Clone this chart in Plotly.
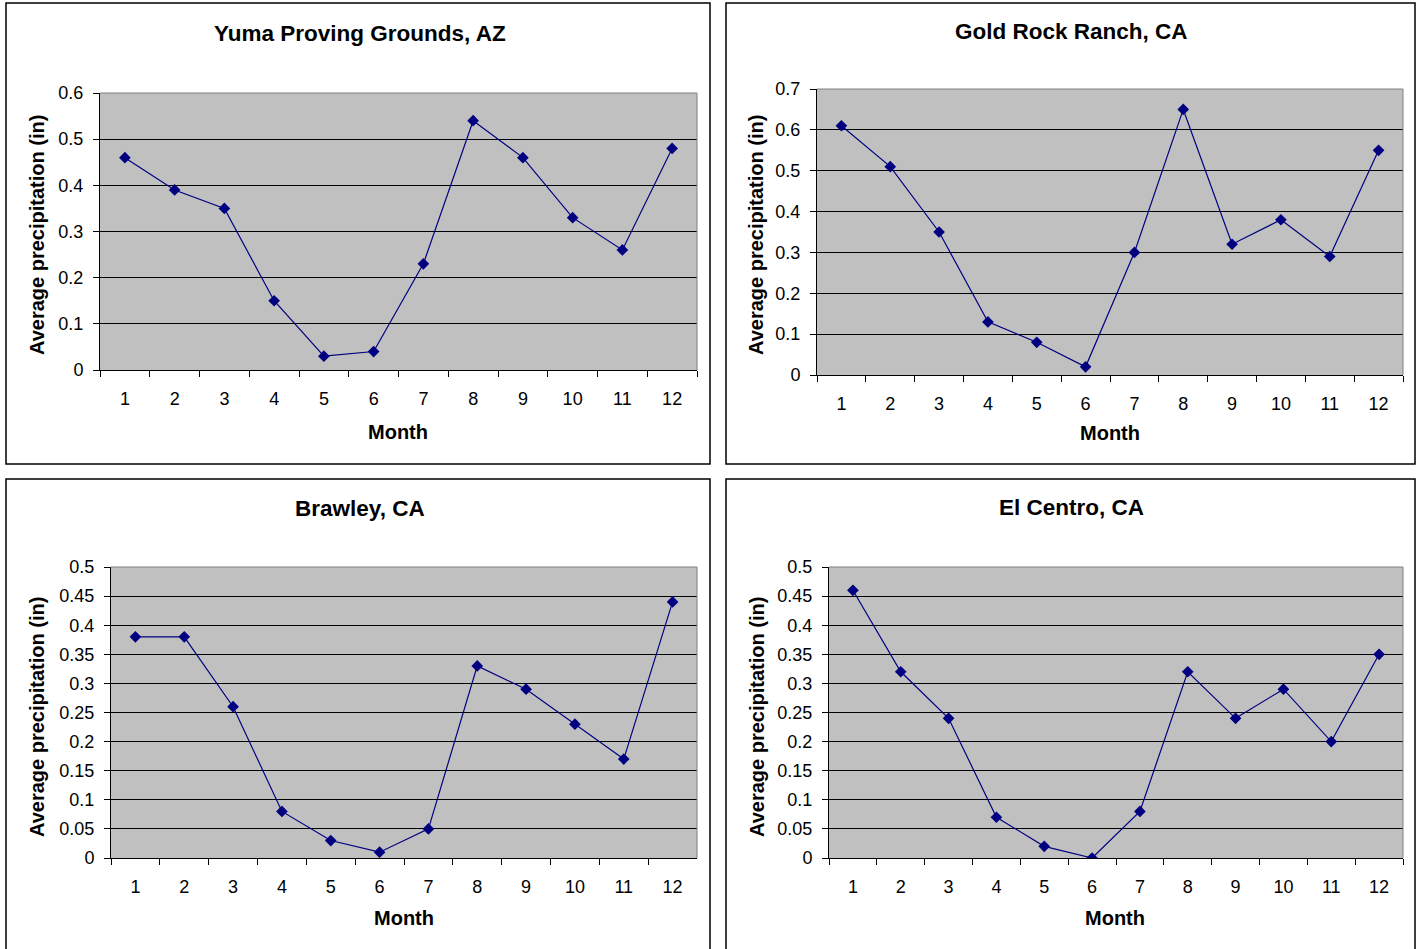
import plotly.graph_objects as go

months = [str(m) for m in range(1, 13)]

titles = ["Yuma Proving Grounds, AZ", "Gold Rock Ranch, CA", "Brawley, CA", "El Centro, CA"]

yuma = [0.46, 0.39, 0.35, 0.15, 0.03, 0.04, 0.23, 0.54, 0.46, 0.33, 0.26, 0.48]
gold_rock = [0.61, 0.51, 0.35, 0.13, 0.08, 0.02, 0.30, 0.65, 0.32, 0.38, 0.29, 0.55]
brawley = [0.38, 0.38, 0.26, 0.08, 0.03, 0.01, 0.05, 0.33, 0.29, 0.23, 0.17, 0.44]
el_centro = [0.46, 0.32, 0.24, 0.07, 0.02, 0.00, 0.08, 0.32, 0.24, 0.29, 0.20, 0.35]

yticks_06 = ["0", "0.1", "0.2", "0.3", "0.4", "0.5", "0.6"]
yticks_07 = ["0", "0.1", "0.2", "0.3", "0.4", "0.5", "0.6", "0.7"]
yticks_05 = ["0", "0.05", "0.1", "0.15", "0.2", "0.25", "0.3", "0.35", "0.4", "0.45", "0.5"]

series = [yuma, gold_rock, brawley, el_centro]
yticks = [yticks_06, yticks_07, yticks_05, yticks_05]

W, H = 1421, 949

# layout in pixels: plot area (x0, x1, y0_top, y1_bottom), box, title pos, month pos, ytitle pos
panels = [
    dict(plot=(100, 697, 93, 370), box=(6, 3, 710, 464), title=(360, 33), month=(398, 432), ytitle=(37, 235)),
    dict(plot=(817, 1403, 89, 375), box=(726, 3, 1415, 464), title=(1071, 31), month=(1110, 433), ytitle=(756, 235)),
    dict(plot=(111, 697, 567, 858), box=(6, 479, 710, 970), title=(360, 508), month=(404, 918), ytitle=(37, 717)),
    dict(plot=(829, 1403, 567, 858), box=(726, 479, 1415, 970), title=(1071, 507), month=(1115, 918), ytitle=(757, 717)),
]

def px(x):
    return x / W

def py(y):
    return 1 - y / H

FONT = "Liberation Sans, Arial, sans-serif"
fig = go.Figure()
shapes = []
annotations = []

for i, (vals, tl, p, ttl) in enumerate(zip(series, yticks, panels, titles)):
    n = "" if i == 0 else str(i + 1)
    fig.add_trace(go.Scatter(
        x=months, y=vals, mode="lines+markers",
        line=dict(color="#000080", width=1.2),
        marker=dict(symbol="diamond", size=9, color="#000080"),
        xaxis="x" + n, yaxis="y" + n, showlegend=False,
        hoverinfo="x+y",
    ))
    x0, x1, yt, yb = p["plot"]
    tv = [float(t) for t in tl]
    fig.layout["xaxis" + n] = dict(
        domain=[px(x0), px(x1)], anchor="y" + n, type="category",
        range=[-0.5, len(months) - 0.5], automargin=False,
        tickson="boundaries", ticks="outside", ticklen=6, tickcolor="black",
        showline=True, linecolor="black", linewidth=1, showgrid=False,
        tickfont=dict(family=FONT, size=18, color="black"),
        ticklabelstandoff=12, zeroline=False, fixedrange=True,
    )
    fig.layout["yaxis" + n] = dict(
        domain=[py(yb), py(yt)], anchor="x" + n, automargin=False,
        range=[0, tv[-1]], tickvals=tv, ticktext=tl,
        ticks="outside", ticklen=6, tickcolor="black",
        showline=True, linecolor="black", linewidth=1,
        showgrid=True, gridcolor="black", gridwidth=1, zeroline=False,
        tickfont=dict(family=FONT, size=18, color="black"),
        ticklabelstandoff=6, fixedrange=True,
    )
    # gray top/right border of plot area
    shapes.append(dict(type="line", xref="paper", yref="paper",
                       x0=px(x0), x1=px(x1), y0=py(yt), y1=py(yt),
                       line=dict(color="#808080", width=1), layer="above"))
    shapes.append(dict(type="line", xref="paper", yref="paper",
                       x0=px(x1), x1=px(x1), y0=py(yt), y1=py(yb),
                       line=dict(color="#808080", width=1), layer="above"))
    # outer chart box
    bx0, by0, bx1, by1 = p["box"]
    shapes.append(dict(type="rect", xref="paper", yref="paper",
                       x0=px(bx0), x1=px(bx1), y0=py(by1), y1=py(by0),
                       line=dict(color="black", width=1.5), layer="below"))
    annotations.append(dict(text="<b>" + ttl + "</b>", xref="paper", yref="paper",
                            x=px(p["title"][0]), y=py(p["title"][1]), showarrow=False,
                            xanchor="center", yanchor="middle",
                            font=dict(family=FONT, size=22.5, color="black")))
    annotations.append(dict(text="<b>Month</b>", xref="paper", yref="paper",
                            x=px(p["month"][0]), y=py(p["month"][1]), showarrow=False,
                            xanchor="center", yanchor="middle",
                            font=dict(family=FONT, size=20, color="black")))
    annotations.append(dict(text="<b>Average precipitation (in)</b>", xref="paper", yref="paper",
                            x=px(p["ytitle"][0]), y=py(p["ytitle"][1]), showarrow=False,
                            xanchor="center", yanchor="middle", textangle=-90,
                            font=dict(family=FONT, size=20, color="black")))

fig.update_layout(
    template="none",
    width=W, height=H,
    margin=dict(l=0, r=0, t=0, b=0, pad=0, autoexpand=False),
    paper_bgcolor="white", plot_bgcolor="#C0C0C0",
    shapes=shapes, annotations=annotations,
)

fig.write_html(
    "out.html",
    config={"displayModeBar": False},
    post_script=(
        "document.body.style.margin='0';"
        "document.body.style.overflow='hidden';"
        "document.documentElement.style.overflow='hidden';"
        "var d=document.getElementById('{plot_id}');"
        "d.style.position='fixed';d.style.top='0px';d.style.left='0px';"
    ),
)
